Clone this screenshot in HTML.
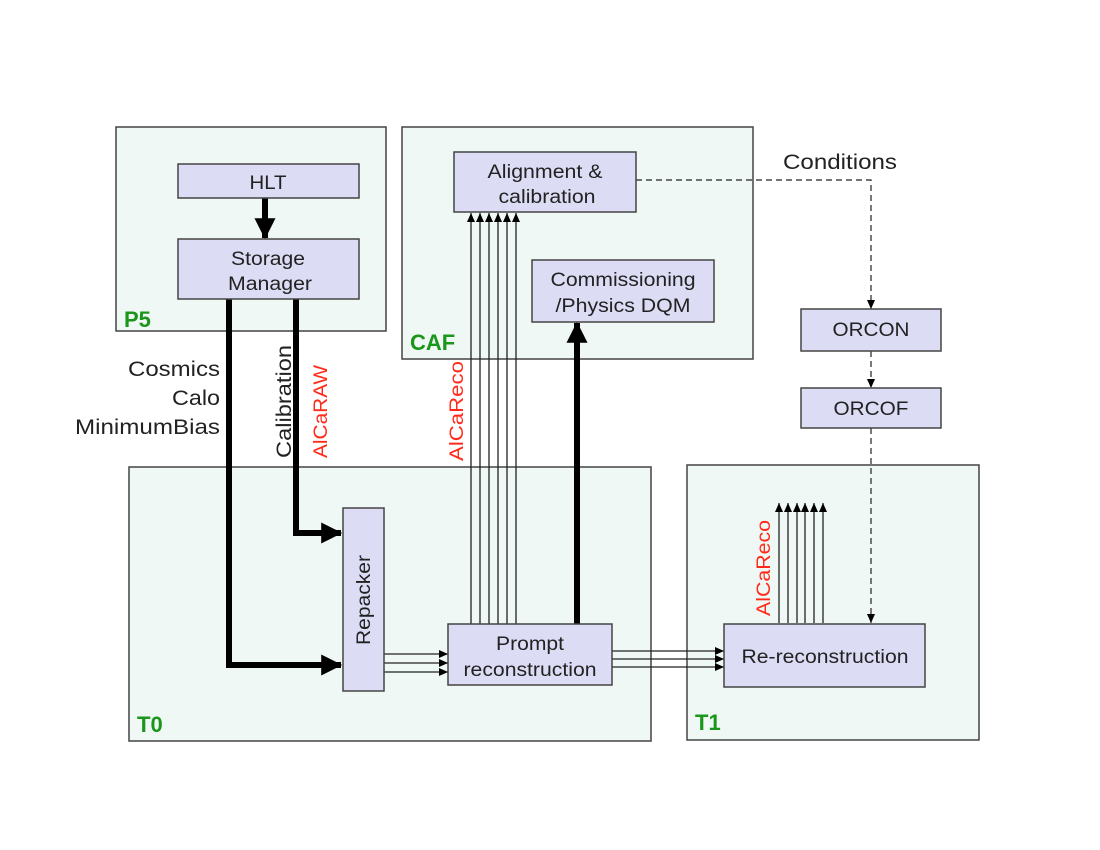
<!DOCTYPE html>
<html><head><meta charset="utf-8"><style>
html,body{margin:0;padding:0;background:#fff}
svg{display:block}
text{font-family:"Liberation Sans",sans-serif}
</style></head><body>
<svg width="1100" height="850" viewBox="0 0 1100 850" xmlns="http://www.w3.org/2000/svg">
<defs>
<marker id="big" markerWidth="3.5" markerHeight="3.5" refX="3.3" refY="1.75" orient="auto" markerUnits="strokeWidth"><path d="M0,0 L3.5,1.75 L0,3.5 z" fill="#000"/></marker>
<marker id="sm" markerWidth="10" markerHeight="10" refX="9" refY="4" orient="auto" markerUnits="userSpaceOnUse"><path d="M0,0 L9,4 L0,8 z" fill="#000"/></marker>
</defs>
<g fill="#f0f8f5" stroke="#444" stroke-width="1.5">
<rect x="116" y="127" width="270" height="204"/>
<rect x="402" y="127" width="351" height="232"/>
<rect x="129" y="467" width="522" height="274"/>
<rect x="687" y="465" width="292" height="275"/>
</g>
<g fill="#1a961a" font-weight="bold" font-size="22">
<text x="124" y="327">P5</text>
<text x="410" y="350">CAF</text>
<text x="137" y="732">T0</text>
<text x="695" y="730">T1</text>
</g>
<g fill="none" stroke="#000" stroke-width="6">
<line x1="265" y1="198" x2="265" y2="238" marker-end="url(#big)"/>
<polyline points="229,299 229,665 341,665" marker-end="url(#big)"/>
<polyline points="296,299 296,533 341,533" marker-end="url(#big)"/>
<line x1="577" y1="624" x2="577" y2="323" marker-end="url(#big)"/>
</g>
<g stroke="#222" stroke-width="1.3" fill="none">
<line x1="471" y1="624" x2="471" y2="213" marker-end="url(#sm)"/>
<line x1="480" y1="624" x2="480" y2="213" marker-end="url(#sm)"/>
<line x1="489" y1="624" x2="489" y2="213" marker-end="url(#sm)"/>
<line x1="498" y1="624" x2="498" y2="213" marker-end="url(#sm)"/>
<line x1="507" y1="624" x2="507" y2="213" marker-end="url(#sm)"/>
<line x1="516" y1="624" x2="516" y2="213" marker-end="url(#sm)"/>
<line x1="779" y1="623" x2="779" y2="503" marker-end="url(#sm)"/>
<line x1="788" y1="623" x2="788" y2="503" marker-end="url(#sm)"/>
<line x1="797" y1="623" x2="797" y2="503" marker-end="url(#sm)"/>
<line x1="805" y1="623" x2="805" y2="503" marker-end="url(#sm)"/>
<line x1="814" y1="623" x2="814" y2="503" marker-end="url(#sm)"/>
<line x1="823" y1="623" x2="823" y2="503" marker-end="url(#sm)"/>
<line x1="384" y1="654" x2="448" y2="654" marker-end="url(#sm)"/>
<line x1="384" y1="663" x2="448" y2="663" marker-end="url(#sm)"/>
<line x1="384" y1="672" x2="448" y2="672" marker-end="url(#sm)"/>
<line x1="612" y1="651" x2="724" y2="651" marker-end="url(#sm)"/>
<line x1="612" y1="659" x2="724" y2="659" marker-end="url(#sm)"/>
<line x1="612" y1="667" x2="724" y2="667" marker-end="url(#sm)"/>
</g>
<g stroke="#222" stroke-width="1.2" fill="none" stroke-dasharray="6,4">
<polyline points="636,180 871,180 871,309" marker-end="url(#sm)"/>
<line x1="871" y1="351" x2="871" y2="388" marker-end="url(#sm)"/>
<line x1="871" y1="428" x2="871" y2="623" marker-end="url(#sm)"/>
</g>
<g fill="#dcdcf5" stroke="#444" stroke-width="1.5">
<rect x="178" y="164" width="181" height="34"/>
<rect x="178" y="239" width="181" height="60"/>
<rect x="454" y="152" width="182" height="60"/>
<rect x="532" y="260" width="182" height="62"/>
<rect x="343" y="508" width="41" height="183"/>
<rect x="448" y="624" width="164" height="61"/>
<rect x="724" y="624" width="201" height="63"/>
<rect x="801" y="309" width="140" height="42"/>
<rect x="801" y="388" width="140" height="40"/>
</g>
<g font-size="19" fill="#222" text-anchor="middle">
<text x="268" y="189" textLength="37" lengthAdjust="spacingAndGlyphs">HLT</text>
<text x="268" y="265" textLength="74" lengthAdjust="spacingAndGlyphs">Storage</text>
<text x="270" y="290" textLength="84" lengthAdjust="spacingAndGlyphs">Manager</text>
<text x="545" y="178" textLength="115" lengthAdjust="spacingAndGlyphs">Alignment &amp;</text>
<text x="547" y="203" textLength="97" lengthAdjust="spacingAndGlyphs">calibration</text>
<text x="623" y="286" textLength="145" lengthAdjust="spacingAndGlyphs">Commissioning</text>
<text x="623" y="312" textLength="135" lengthAdjust="spacingAndGlyphs">/Physics DQM</text>
<text x="530" y="650" textLength="68" lengthAdjust="spacingAndGlyphs">Prompt</text>
<text x="530" y="676" textLength="133" lengthAdjust="spacingAndGlyphs">reconstruction</text>
<text x="825" y="663" textLength="167" lengthAdjust="spacingAndGlyphs">Re-reconstruction</text>
<text x="871" y="336" textLength="77" lengthAdjust="spacingAndGlyphs">ORCON</text>
<text x="871" y="415" textLength="75" lengthAdjust="spacingAndGlyphs">ORCOF</text>
<text x="370" y="600" transform="rotate(-90 370 600)" textLength="90" lengthAdjust="spacingAndGlyphs">Repacker</text>
</g>
<g font-size="21" fill="#222">
<text x="783" y="169" textLength="114" lengthAdjust="spacingAndGlyphs">Conditions</text>
<text x="128" y="376" textLength="92" lengthAdjust="spacingAndGlyphs">Cosmics</text>
<text x="172" y="405" textLength="48" lengthAdjust="spacingAndGlyphs">Calo</text>
<text x="75" y="434" textLength="145" lengthAdjust="spacingAndGlyphs">MinimumBias</text>
<text x="291" y="458" transform="rotate(-90 291 458)" textLength="113" lengthAdjust="spacingAndGlyphs">Calibration</text>
</g>
<g font-size="19" fill="#ff2a1a">
<text x="327" y="458" transform="rotate(-90 327 458)" textLength="93" lengthAdjust="spacingAndGlyphs">AlCaRAW</text>
<text x="463" y="461" transform="rotate(-90 463 461)" textLength="100" lengthAdjust="spacingAndGlyphs">AlCaReco</text>
<text x="770" y="616" transform="rotate(-90 770 616)" textLength="96" lengthAdjust="spacingAndGlyphs">AlCaReco</text>
</g>
</svg>
</body></html>
